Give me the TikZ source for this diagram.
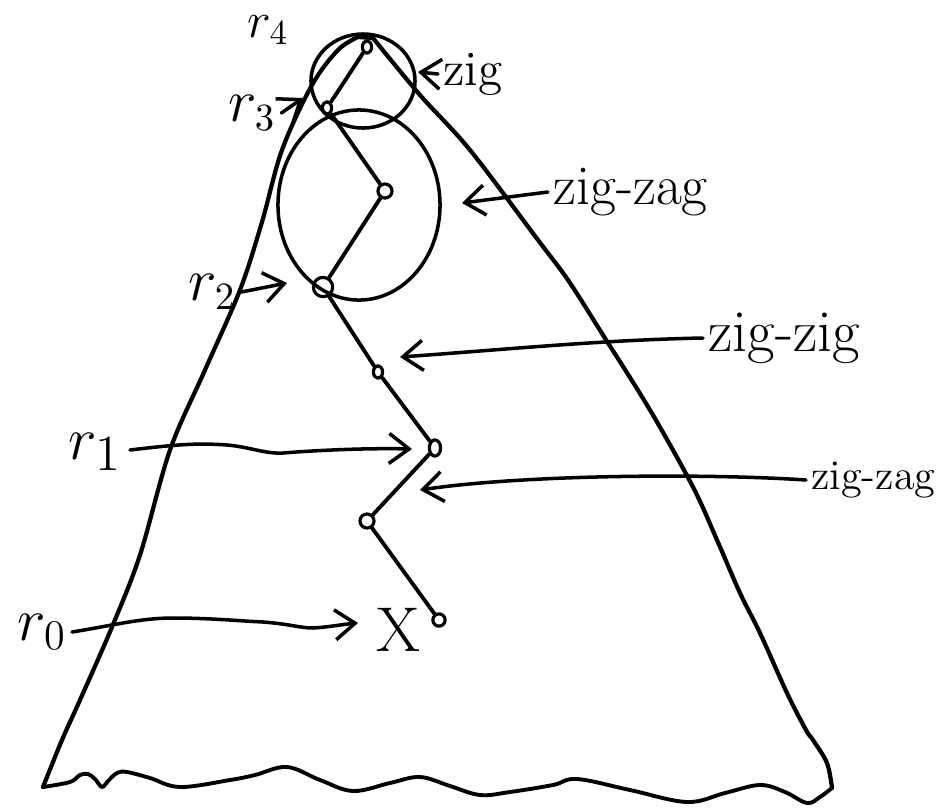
\documentclass[tikz,border=0pt]{standalone}
\usetikzlibrary{arrows.meta,shapes.geometric}
\begin{document}
\begin{tikzpicture}[x=0.01cm,y=-0.01cm,line width=1.1pt,line cap=round,line join=round,
  vtx/.style={draw,ellipse,inner sep=0pt,minimum width=2.6pt,minimum height=3.6pt,line width=0.9pt},
  vtxc/.style={draw,circle,inner sep=0pt,minimum size=4pt,line width=0.9pt},
  lab/.style={inner sep=1pt,font=\fontsize{16}{18}\selectfont},
  arr/.style={-{Straight Barb[length=2mm,width=3mm]},line width=1pt}]
\useasboundingbox (0,0) rectangle (947,808);
% outline of the tree (triangle with wavy bottom)
\draw[line width=1.2pt] plot[smooth,tension=0.55] coordinates {
  (43,787) (62,740) (80,700) (112,627) (140,555) (170,450) (205,370) (240,290)
  (262,222) (282,150) (312,85) (338,50) (358,37)}
  -- (373,38)
  plot[smooth,tension=0.55] coordinates {(373,38) (420,95) (470,150) (538,240) (568,280)
  (603,335) (650,410) (693,487) (717,540) (740,593) (760,633) (787,693) (806,730)
  (813,740) (827,763) (832,788)};
\draw[line width=1.1pt] plot[smooth,tension=0.6] coordinates {
  (832,788) (820,797) (807,803) (785,792) (760,785) (725,793) (687,802) (630,790)
  (577,779) (553,785) (510,792) (480,795) (450,786) (420,777) (390,783) (353,791)
  (320,780) (287,767) (255,775) (230,780) (180,787) (150,778) (127,772) (117,773)
  (108,781) (102,787) (95,779) (88,774) (80,775) (70,782) (43,787)};
% circles
\draw[line width=1pt] (363,81) ellipse [x radius=0.52cm,y radius=0.47cm];
\draw[line width=1pt] (359,205) ellipse [x radius=0.81cm,y radius=0.95cm];
% vertices
\node[vtx] (v4) at (367,47) {};
\node[vtx] (v3) at (327,108) {};
\node[vtxc] (a) at (385,191) {};
\node[draw,circle,inner sep=0pt,minimum size=5.5pt,line width=0.9pt] (v2) at (323,287) {};
\node[vtx] (b) at (378,372) {};
\node[vtx,minimum width=3.2pt,minimum height=4.6pt] (v1) at (435,448) {};
\node[vtxc] (c) at (367,521) {};
\node[vtxc,minimum size=3.5pt] (d) at (439,620) {};
\draw (v4) -- (v3) -- (a) -- (v2) -- (b) -- (v1) -- (c) -- (d);
% labels on the left
\node[lab,font=\fontsize{14}{16}\selectfont] (l4) at (268,30) {$r_4$};
\node[lab] (l3) at (252,113) {$r_3$};
\node[lab] (l2) at (212,292) {$r_2$};
\node[lab,font=\fontsize{19}{21}\selectfont] (l1) at (95,452) {$r_1$};
\node[lab,font=\fontsize{17}{19}\selectfont] (l0) at (42,632) {$r_0$};
\node[lab,font=\fontsize{18}{20}\selectfont] (x) at (398,630) {X};
\coordinate (t3) at (303,98);
\coordinate (t2) at (287,283);
\draw[arr] (l3.east) -- (t3);
\draw[arr] (l2.east) -- (t2);
\draw[arr] (130,450) .. controls (180,444) and (200,443) .. (227,445)
  .. controls (250,447) and (265,454) .. (283,453)
  .. controls (320,450) and (370,448) .. (412,449);
\draw[arr] (l0.east) .. controls (110,626) and (140,618) .. (173,618)
  .. controls (210,618) and (240,621) .. (263,622)
  .. controls (290,624) and (300,628) .. (313,628)
  .. controls (330,627) and (345,624) .. (358,623);
% labels on the right
\node[lab,anchor=west,font=\fontsize{14}{16}\selectfont] (zig) at (438,74) {zig};
\node[lab,anchor=west] (zz1) at (548,192) {zig-zag};
\node[lab,anchor=west,font=\fontsize{17}{19}\selectfont] (zzg) at (703,338) {zig-zig};
\node[lab,anchor=west,font=\fontsize{12}{14}\selectfont] (zz2) at (806,480) {zig-zag};
\coordinate (tz) at (418,72);
\coordinate (tz1) at (462,203);
\coordinate (tzg) at (400,357);
\coordinate (tz2) at (420,490);
\draw[arr] (zig.west) -- (tz);
\draw[arr] (zz1.west) -- (tz1);
\draw[arr] (zzg.west) .. controls (600,340) and (500,350) .. (tzg);
\draw[arr] (zz2.west) .. controls (700,473) and (520,475) .. (tz2);
\end{tikzpicture}
\end{document}
